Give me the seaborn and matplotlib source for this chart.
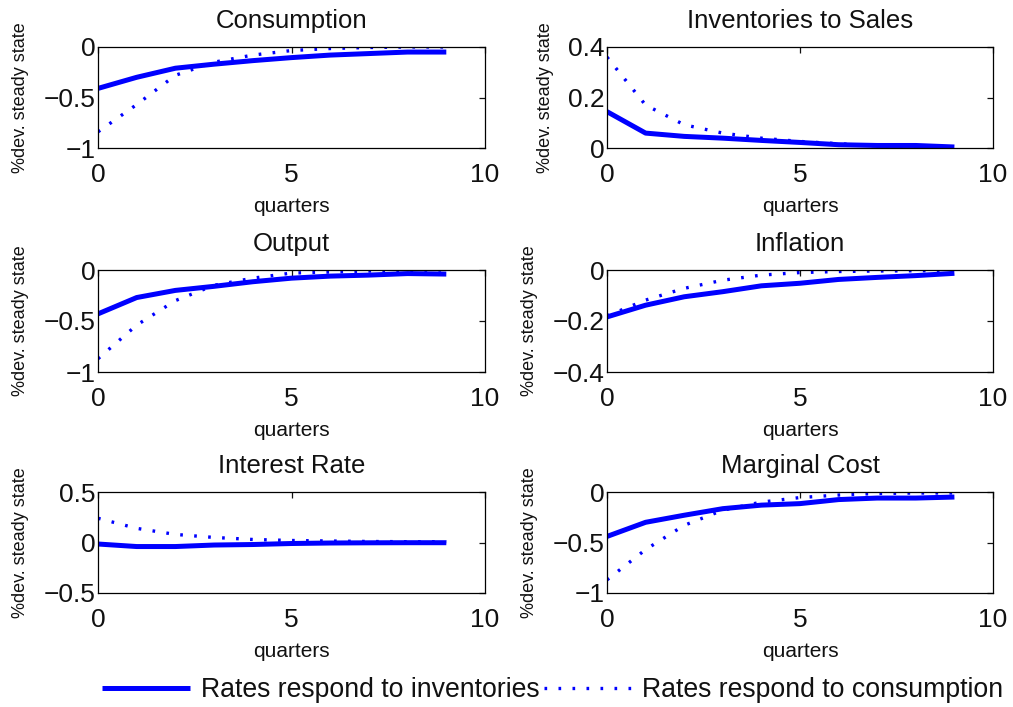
import matplotlib
matplotlib.use("Agg")
import matplotlib.pyplot as plt
import numpy as np
import pandas as pd
import seaborn as sns
from matplotlib.ticker import FuncFormatter

# ---------------- data ----------------
quarters = [0, 1, 2, 3, 4, 5, 6, 7, 8, 9]
series_labels = ["Rates respond to inventories", "Rates respond to consumption"]
titles = ["Consumption", "Inventories to Sales", "Output", "Inflation",
          "Interest Rate", "Marginal Cost"]

consumption_inv = [-0.41, -0.30, -0.21, -0.17, -0.135, -0.105, -0.08, -0.065, -0.05, -0.05]
consumption_con = [-0.84, -0.57, -0.28, -0.15, -0.08, -0.035, -0.015, -0.005, 0.0, 0.0]

inventories_inv = [0.144, 0.059, 0.046, 0.039, 0.030, 0.022, 0.013, 0.010, 0.010, 0.004]
inventories_con = [0.36, 0.17, 0.092, 0.059, 0.039, 0.026, 0.017, 0.009, 0.007, 0.004]

output_inv = [-0.43, -0.27, -0.20, -0.16, -0.115, -0.08, -0.06, -0.05, -0.035, -0.04]
output_con = [-0.87, -0.54, -0.30, -0.15, -0.08, -0.03, -0.02, -0.01, -0.005, 0.0]

inflation_inv = [-0.184, -0.138, -0.105, -0.085, -0.062, -0.052, -0.037, -0.029, -0.022, -0.013]
inflation_con = [-0.18, -0.118, -0.072, -0.04, -0.02, -0.01, -0.006, -0.004, -0.003, -0.002]

interest_inv = [-0.015, -0.04, -0.04, -0.025, -0.02, -0.01, -0.005, -0.003, -0.002, -0.002]
interest_con = [0.24, 0.14, 0.08, 0.05, 0.03, 0.02, 0.015, 0.01, 0.008, 0.008]

mcost_inv = [-0.44, -0.30, -0.23, -0.165, -0.13, -0.115, -0.075, -0.06, -0.06, -0.05]
mcost_con = [-0.87, -0.57, -0.33, -0.18, -0.10, -0.055, -0.03, -0.015, -0.01, -0.01]

yticks = [[-1, -0.5, 0], [0, 0.2, 0.4], [-1, -0.5, 0], [-0.4, -0.2, 0],
          [-0.5, 0, 0.5], [-1, -0.5, 0]]
xticks = [0, 5, 10]

panels = [(consumption_inv, consumption_con), (inventories_inv, inventories_con),
          (output_inv, output_con), (inflation_inv, inflation_con),
          (interest_inv, interest_con), (mcost_inv, mcost_con)]

# ---------------- style ----------------
sns.set_style("white")
plt.rcParams['font.family'] = ['Liberation Sans', 'DejaVu Sans']
plt.rcParams['axes.linewidth'] = 0.9
plt.rcParams['text.color'] = '#111111'
plt.rcParams['axes.labelcolor'] = '#111111'
plt.rcParams['xtick.color'] = '#111111'
plt.rcParams['ytick.color'] = '#111111'

BLUE = "#0000ff"

fig = plt.figure(figsize=(10.13, 7.07), dpi=100)

W, H = 1013.0, 707.0
lefts = [98, 607]
widths = [387, 386]
tops = [47, 270, 492]
bottoms = [148, 372, 593]

fmt = FuncFormatter(lambda v, p: f"{v:g}".replace("-", "\u2212"))

axes = []
for i, (inv, con) in enumerate(panels):
    r, c = divmod(i, 2)
    rect = [lefts[c] / W, 1 - bottoms[r] / H, widths[c] / W, (bottoms[r] - tops[r]) / H]
    ax = fig.add_axes(rect)
    df = pd.DataFrame({"quarter": quarters, "inv": inv, "con": con})
    sns.lineplot(data=df, x="quarter", y="inv", ax=ax, color=BLUE, linewidth=3.6,
                 solid_capstyle="butt", label=series_labels[0], legend=False)
    sns.lineplot(data=df, x="quarter", y="con", ax=ax, color=BLUE, linewidth=2.4,
                 linestyle=(0, (0.8, 3.4)), dash_capstyle="butt",
                 label=series_labels[1], legend=False)
    ax.set_xlim(0, 10)
    ax.set_ylim(yticks[i][0], yticks[i][-1])
    ax.set_xticks(xticks)
    ax.set_yticks(yticks[i])
    ax.xaxis.set_major_formatter(fmt)
    ax.yaxis.set_major_formatter(fmt)
    ax.tick_params(direction="in", length=4, width=0.9, top=True, right=True,
                   labelsize=19)
    ax.tick_params(axis="x", pad=11)
    ax.tick_params(axis="y", pad=2)
    for s in ax.spines.values():
        s.set_color("black")
        s.set_visible(True)
    ax.set_title(titles[i], fontsize=18.5, pad=14)
    ax.set_xlabel("quarters", fontsize=15, labelpad=7)
    ax.set_ylabel("%dev. steady state", fontsize=13, labelpad=10)
    axes.append(ax)

handles = axes[0].get_lines()[:2]
fig.legend(handles, series_labels, loc="center", bbox_to_anchor=(553 / W, 1 - 690 / H),
           ncol=2, frameon=False, fontsize=19.2, handlelength=3.3, handletextpad=0.4,
           columnspacing=0.15, borderaxespad=0, borderpad=0)

fig.savefig("out.png", dpi=100, facecolor="white")
